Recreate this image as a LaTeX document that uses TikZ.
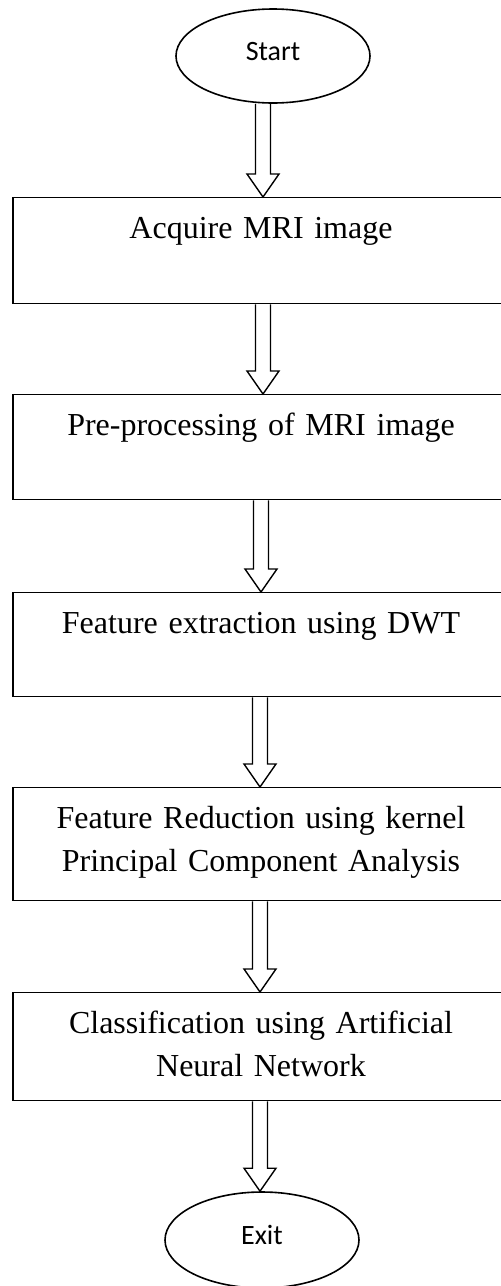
\documentclass[tikz,border=0pt]{standalone}
\usepackage{fontspec}
\setmainfont{Liberation Serif}
\newfontfamily\calibri{Carlito}
\usetikzlibrary{calc,shapes.geometric}

\begin{document}
\begin{tikzpicture}[x=1pt, y=-1pt,
    terminal/.style ={ellipse, draw, line width=1.6pt, inner sep=0pt,
      minimum width=194pt, minimum height=94pt, text depth=10pt,
      font=\calibri\fontsize{28}{34}\selectfont},
    process/.style ={rectangle, draw, line width=1.4pt, inner sep=0pt,
      minimum width=496pt, text width=470pt, align=center, anchor=north,
      text height=41pt, font=\fontsize{32}{43}\selectfont},
    hollow/.style ={line width=1.4pt, line join=miter,
      to path={let \p1=(\tikztostart), \p2=(\tikztotarget) in
        (\x1-7.5pt,\y1) -- (\x1-7.5pt,\y2+23pt) -- (\x1-16pt,\y2+23pt) -- (\x1,\y2)
        -- (\x1+16pt,\y2+23pt) -- (\x1+7.5pt,\y2+23pt) -- (\x1+7.5pt,\y1)}}]
   \useasboundingbox (0,0) rectangle (501,1286);

   \node[terminal] (start) at (273,56) {Start};
   \node[process, text depth=65pt] (acquire) at (261,197) {Acquire MRI image};
   \node[process, text depth=64pt] (preproc) at (261,394) {Pre-processing of MRI image};
   \node[process, text depth=63pt] (extract) at (261,592) {Feature extraction using DWT};
   \node[process, text depth=72pt] (reduce) at (261,787) {Feature Reduction using kernel\\ Principal Component Analysis};
   \node[process, text depth=67pt] (classify) at (261,992) {Classification using Artificial\\ Neural Network};
   \node[terminal, minimum height=96pt] (exit) at (262,1240) {Exit};

   \draw[hollow] (263,0 |- start.south) to (263,0 |- acquire.north);
   \draw[hollow] (263,0 |- acquire.south) to (263,0 |- preproc.north);
   \draw[hollow] (261,0 |- preproc.south) to (261,0 |- extract.north);
   \draw[hollow] (260,0 |- extract.south) to (260,0 |- reduce.north);
   \draw[hollow] (260,0 |- reduce.south) to (260,0 |- classify.north);
   \draw[hollow] (260,0 |- classify.south) to (260,0 |- exit.north);
 \end{tikzpicture}
\end{document}
